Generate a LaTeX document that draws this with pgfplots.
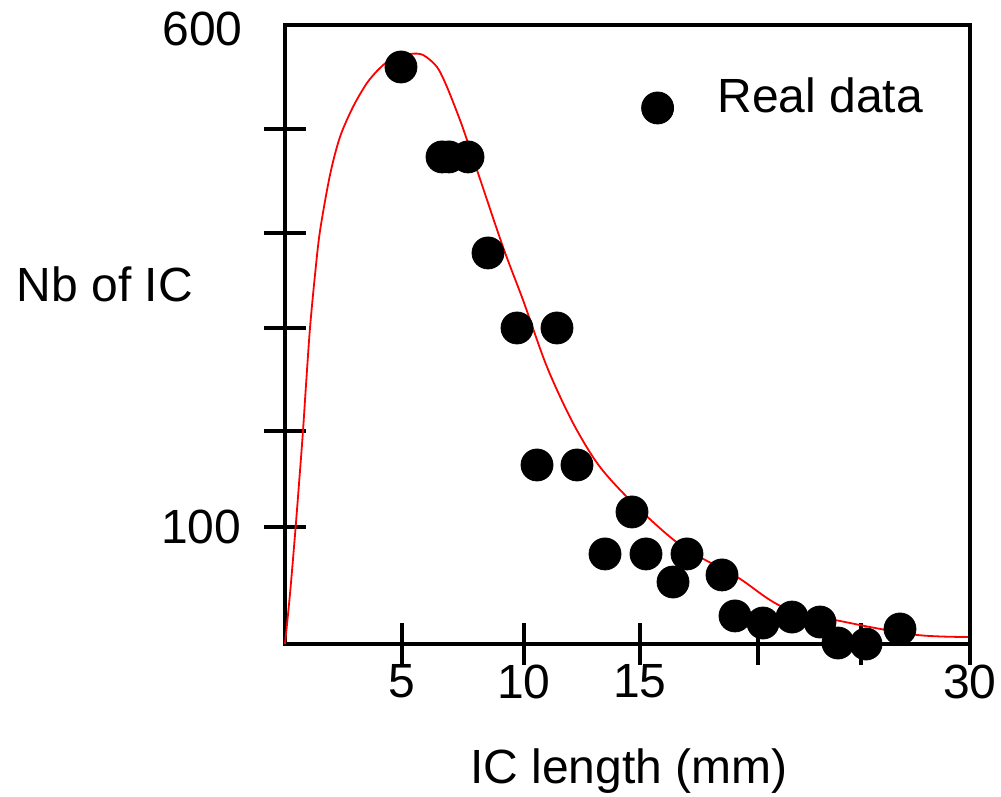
\documentclass[border=0pt]{standalone}
\usepackage{fontspec}
\setmainfont{Liberation Sans}
\usepackage{pgfplots}
\pgfplotsset{compat=1.18}
\begin{document}
\fontsize{24}{28}\selectfont
\begin{tikzpicture}
\begin{axis}[
  scale only axis,
  width=342.5pt, height=309.5pt,
  xmin=0, xmax=30, ymin=-17.6, ymax=604.5,
  clip=false,
  axis line style={line width=2pt},
  major tick style={line width=2pt, black},
  major tick length=20.5pt,
  tick align=center,
  xtick pos=lower, ytick pos=left,
  xtick={5.124,10.467,15.547,20.716,25.226,30},
  xticklabels={5,10,15,,,30},
  ytick={100,196.5,300,395.5,500},
  yticklabels={100,,,,},
  extra y ticks={600},
  extra y tick labels={600},
  extra y tick style={major tick length=0pt, yticklabel style={xshift=-9.5pt}},
  /pgf/number format/assume math mode=true,
  xticklabel style={inner sep=0pt, anchor=north, yshift=0pt},
  yticklabel style={inner sep=0pt, anchor=east, xshift=-11.5pt},
  xlabel={IC length (mm)},
  xlabel style={at={(axis description cs:0.502,0)}, anchor=base, yshift=-69.5pt, inner sep=0pt},
  ylabel={Nb of IC},
  ylabel style={at={(axis description cs:-0.2628,0.5816)}, rotate=-90, anchor=center, inner sep=0pt},
  legend style={draw=none, fill=none, inner sep=0pt, outer sep=0pt,
    nodes={inner sep=0pt},
    at={(axis description cs:0.5206,0.8805)}, anchor=west,
    /tikz/every odd column/.append style={column sep=22pt}},
  legend image code/.code={\draw[#1] plot coordinates {(0pt,-4.5pt)}; \path (0pt,12.5pt) (0pt,-12.5pt);},
]
\addplot[only marks, mark=*, mark size=8pt, black, fill=black] coordinates {
(5.080,562.3) (6.876,471.9) (7.183,471.9) (8.015,471.9) (8.891,375.4)
(10.161,300.0) (11.912,300.0) (11.037,162.3) (12.788,162.3) (15.197,115.1)
(14.015,72.9) (15.810,72.9) (17.606,72.9) (16.993,44.7) (19.139,51.8)
(19.708,10.6) (20.934,3.5) (22.205,9.5) (23.431,4.5) (24.219,-16.6)
(25.445,-17.6) (26.934,-2.5)
};
\addlegendentry{Real data}
\addplot[red, line width=0.9pt, smooth, forget plot] coordinates {
(0,-17.6) (0.219,32.7) (0.438,92.0) (0.613,143.2) (0.788,196.5) (0.920,242.7)
(1.095,300.0) (1.314,353.3) (1.533,397.5) (1.971,453.8) (2.409,492.0)
(2.978,522.1) (3.591,546.2) (4.161,561.3) (4.730,571.3) (5.475,575.4)
(6.044,574.4) (6.657,562.3) (7.095,542.2) (7.664,509.0) (7.971,488.9)
(8.409,458.8) (9.548,381.4) (10.424,328.1) (11.475,260.8) (12.613,204.5)
(13.796,160.3) (15.416,120.1) (17.431,79.9) (19.796,49.8) (21.811,19.6)
(24.745,3.5) (27.679,-8.5) (29.912,-10.6)
};
\end{axis}
\pgfresetboundingbox
\path[use as bounding box] (-142.5pt,-76.5pt) rectangle (358pt,322pt);
\end{tikzpicture}
\end{document}
